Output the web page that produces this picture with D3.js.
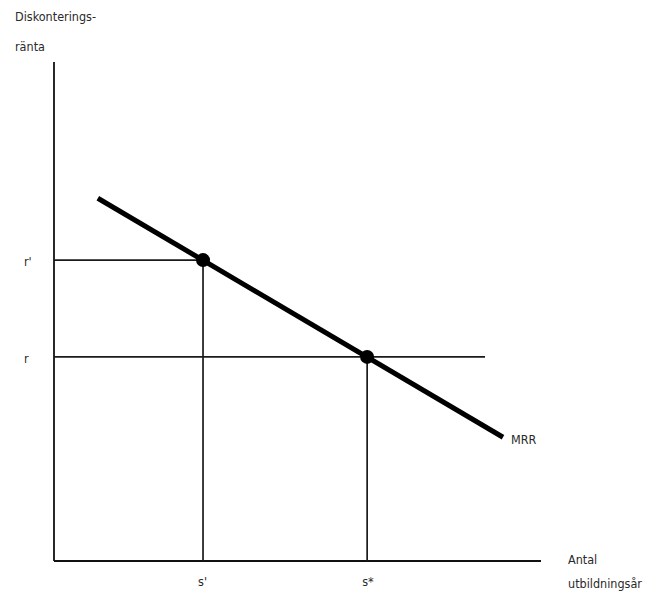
<!DOCTYPE html>
<html>
<head>
<meta charset="utf-8">
<script src="https://cdn.jsdelivr.net/npm/d3@7"></script>
<style>
  body { margin: 0; background: #fff; }
  text { font-family: 'DejaVu Sans Condensed', 'DejaVu Sans', sans-serif; font-size: 12.5px; fill: #2a2a2a; }
</style>
</head>
<body>
<div id="vis"></div>
<script>
const FRAME_WIDTH = 658;
const FRAME_HEIGHT = 599;

// MRR curve (years of schooling, discount rate)
const mrrX = [0.9, 9.22];
const mrrY = [7.27, 2.48];

// marked equilibria
const pointLabelsX = ["s'", 's*'];
const pointLabelsY = ["r'", 'r'];
const pointX = [3.06, 6.43];
const pointY = [6.03, 4.09];

// how far the horizontal guide for each rate reaches
const guideEndX = [3.06, 8.85];

const axisTitleY = ['Diskonterings-', 'ränta'];
const axisTitleX = ['Antal', 'utbildningsår'];

const X_SCALE = d3.scaleLinear().domain([0, 10]).range([54, 541]);
const Y_SCALE = d3.scaleLinear().domain([0, 10]).range([561, 62]);

const FRAME = d3.select('#vis')
  .append('svg')
  .attr('width', FRAME_WIDTH)
  .attr('height', FRAME_HEIGHT);

// axes (plain lines, no ticks)
FRAME.append('line')
  .attr('x1', X_SCALE(0)).attr('y1', Y_SCALE(0))
  .attr('x2', X_SCALE(0)).attr('y2', Y_SCALE(10))
  .attr('stroke', '#111').attr('stroke-width', 1.8);

FRAME.append('line')
  .attr('x1', X_SCALE(0)).attr('y1', Y_SCALE(0))
  .attr('x2', X_SCALE(10)).attr('y2', Y_SCALE(0))
  .attr('stroke', '#111').attr('stroke-width', 1.8);

// horizontal guides
FRAME.selectAll('.hguide')
  .data(pointY)
  .enter()
  .append('line')
  .attr('x1', X_SCALE(0))
  .attr('x2', (d, i) => X_SCALE(guideEndX[i]))
  .attr('y1', (d) => Y_SCALE(d))
  .attr('y2', (d) => Y_SCALE(d))
  .attr('stroke', '#1a1a1a').attr('stroke-width', 1.7);

// vertical guides
FRAME.selectAll('.vguide')
  .data(pointX)
  .enter()
  .append('line')
  .attr('x1', (d) => X_SCALE(d))
  .attr('x2', (d) => X_SCALE(d))
  .attr('y1', (d, i) => Y_SCALE(pointY[i]))
  .attr('y2', Y_SCALE(0))
  .attr('stroke', '#1a1a1a').attr('stroke-width', 1.7);

// MRR line
const mrrData = mrrX.map((x, i) => [x, mrrY[i]]);
FRAME.append('path')
  .datum(mrrData)
  .attr('d', d3.line().x((d) => X_SCALE(d[0])).y((d) => Y_SCALE(d[1])))
  .attr('stroke', '#000').attr('stroke-width', 5).attr('fill', 'none');

FRAME.selectAll('.point')
  .data(pointX)
  .enter()
  .append('circle')
  .attr('cx', (d) => X_SCALE(d))
  .attr('cy', (d, i) => Y_SCALE(pointY[i]))
  .attr('r', 7)
  .attr('fill', '#000');

// labels
FRAME.append('text')
  .attr('x', X_SCALE(mrrX[1]) + 8)
  .attr('y', Y_SCALE(mrrY[1]) + 7)
  .text('MRR');

FRAME.selectAll('.ylab')
  .data(pointLabelsY)
  .enter()
  .append('text')
  .attr('x', 24)
  .attr('y', (d, i) => Y_SCALE(pointY[i]) + 6)
  .text((d) => d);

FRAME.selectAll('.xlab')
  .data(pointLabelsX)
  .enter()
  .append('text')
  .attr('x', (d, i) => X_SCALE(pointX[i]) - 5)
  .attr('y', Y_SCALE(0) + 25)
  .text((d) => d);

FRAME.selectAll('.ytitle')
  .data(axisTitleY)
  .enter()
  .append('text')
  .attr('x', 15)
  .attr('y', (d, i) => 21 + i * 30)
  .text((d) => d);

FRAME.selectAll('.xtitle')
  .data(axisTitleX)
  .enter()
  .append('text')
  .attr('x', 568)
  .attr('y', (d, i) => 564 + i * 24)
  .text((d) => d);
</script>
</body>
</html>
